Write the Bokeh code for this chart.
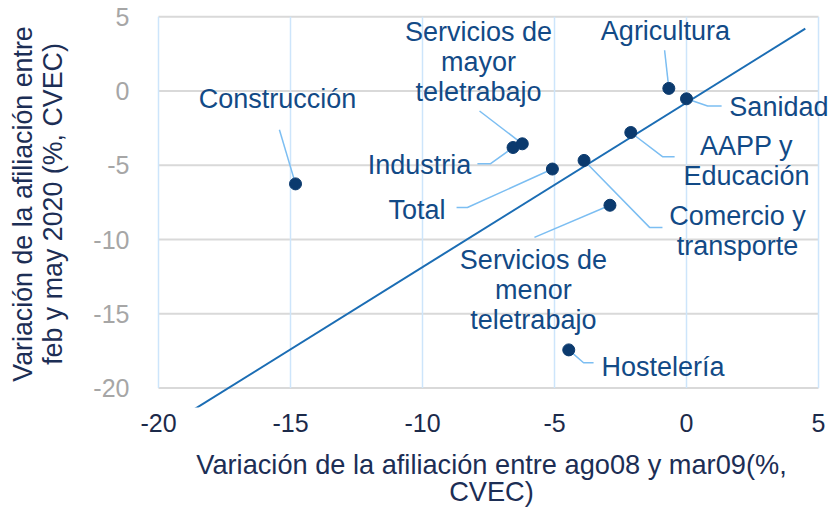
from bokeh.plotting import figure
from bokeh.models import Range1d, FixedTicker, ColumnDataSource
from bokeh.embed import file_html
from bokeh.resources import INLINE
from bokeh.core.properties import value

# ---------------- data ----------------
sectors = ["Agricultura", "Sanidad", "AAPP y\nEducación", "Comercio y\ntransporte", "Total",
           "Servicios de\nmenor\nteletrabajo", "Hostelería", "Industria",
           "Servicios de\nmayor\nteletrabajo", "Construcción"]
var_ago08_mar09 = [-0.67, 0.0, -2.11, -3.88, -5.08, -2.90, -4.46, -6.57, -6.22, -14.81]
var_feb_may20 = [0.18, -0.52, -2.79, -4.67, -5.25, -7.69, -17.43, -3.80, -3.55, -6.25]
trend_x = [-18.8, 4.5]
trend_y = [-21.6, 4.2]
x_ticks = [-20, -15, -10, -5, 0, 5]
x_tick_labels = ["-20", "-15", "-10", "-5", "0", "5"]
y_ticks = [-20, -15, -10, -5, 0, 5]
y_tick_labels = ["-20", "-15", "-10", "-5", "0", "5"]

# ---------------- label layout (data coords) ----------------
label_x = [-0.80, 3.50, 2.27, 1.93, -10.21, -5.80, -0.89, -10.11, -7.88, -15.49]
label_y = [4.02, -1.07, -4.69, -9.42, -7.98, -13.40, -18.57, -4.96, 1.94, -0.54]
leader_bends = [
    [(-0.83, 2.75)],
    [(1.33, -1.01), (0.80, -1.01)],
    [(-0.45, -4.42), (-0.91, -4.42)],
    [(-0.91, -9.18), (-1.40, -9.18)],
    [(-8.71, -7.84), (-8.30, -7.84)],
    [(-5.76, -9.85)],
    [(-3.52, -18.30), (-3.90, -18.30)],
    [(-7.92, -4.89), (-7.42, -4.89)],
    [(-7.84, -1.34)],
    [(-15.42, -2.61)],
]

FONT = "Liberation Sans"
NAVY = "#0b3a6e"
LABEL_C = "#124a86"

p = figure(width=832, height=509, output_backend="svg", toolbar_location=None,
           x_range=Range1d(-20.303, 5.53), y_range=Range1d(-21.31, 6.10),
           min_border_left=150, min_border_right=0, min_border_top=0, min_border_bottom=100)
p.outline_line_color = None
p.background_fill_color = "white"
p.border_fill_color = "white"
p.xgrid.visible = False
p.ygrid.visible = False

# grid lines (bounded to the tick extent)
p.segment(x0=[min(x_ticks)] * len(y_ticks), x1=[max(x_ticks)] * len(y_ticks), y0=y_ticks, y1=y_ticks,
          line_color="#d9d9d9", line_width=2)
p.segment(x0=x_ticks, x1=x_ticks, y0=[min(y_ticks)] * len(x_ticks), y1=[max(y_ticks)] * len(x_ticks),
          line_color="#cde5fb", line_width=1.5)

# trend line
p.line(trend_x, trend_y, line_color="#1b6db4", line_width=2)

# leader lines
xs, ys = [], []
for bends, px, py in zip(leader_bends, var_ago08_mar09, var_feb_may20):
    xs.append([b[0] for b in bends] + [px])
    ys.append([b[1] for b in bends] + [py])
p.multi_line(xs, ys, line_color="#7cbef2", line_width=1.5)

# points
src = ColumnDataSource(dict(x=var_ago08_mar09, y=var_feb_may20))
p.scatter("x", "y", source=src, size=12, fill_color=NAVY, line_color=NAVY)

# labels
lsrc = ColumnDataSource(dict(x=label_x, y=label_y, t=sectors))
p.text("x", "y", text="t", source=lsrc, text_font=value(FONT), text_font_size="27px",
       text_color=LABEL_C, text_align="center", text_baseline="middle", text_line_height=1.0)

# axes
for ax in (p.xaxis, p.yaxis):
    ax.axis_line_color = None
    ax.major_tick_line_color = None
    ax.minor_tick_line_color = None
    ax.major_label_text_font = FONT
    ax.major_label_text_font_size = "25px"
    ax.axis_label_text_font = FONT
    ax.axis_label_text_font_style = "normal"
    ax.axis_label_text_color = "#1c2e55"

p.xaxis.axis_label_text_font_size = "27.2px"
p.yaxis.axis_label_text_font_size = "26.8px"
p.xaxis.ticker = FixedTicker(ticks=x_ticks)
p.yaxis.ticker = FixedTicker(ticks=y_ticks)
p.xaxis.major_label_overrides = dict(zip(x_ticks, x_tick_labels))
p.yaxis.major_label_overrides = dict(zip(y_ticks, y_tick_labels))
p.xaxis.major_label_text_color = "#1c2a4a"
p.yaxis.major_label_text_color = "#a6a6a6"
p.xaxis.major_label_standoff = 0
p.yaxis.major_label_standoff = 15
p.xaxis.axis_label = "Variación de la afiliación entre ago08 y mar09(%,\nCVEC)"
p.yaxis.axis_label = "Variación de la afiliación entre\nfeb y may 2020 (%, CVEC)"
p.xaxis.axis_label_standoff = 14
p.yaxis.axis_label_standoff = 22
p.xaxis.axis_label_text_line_height = 0.88
p.yaxis.axis_label_text_line_height = 1.0

open("out.html", "w").write(file_html(p, INLINE))
